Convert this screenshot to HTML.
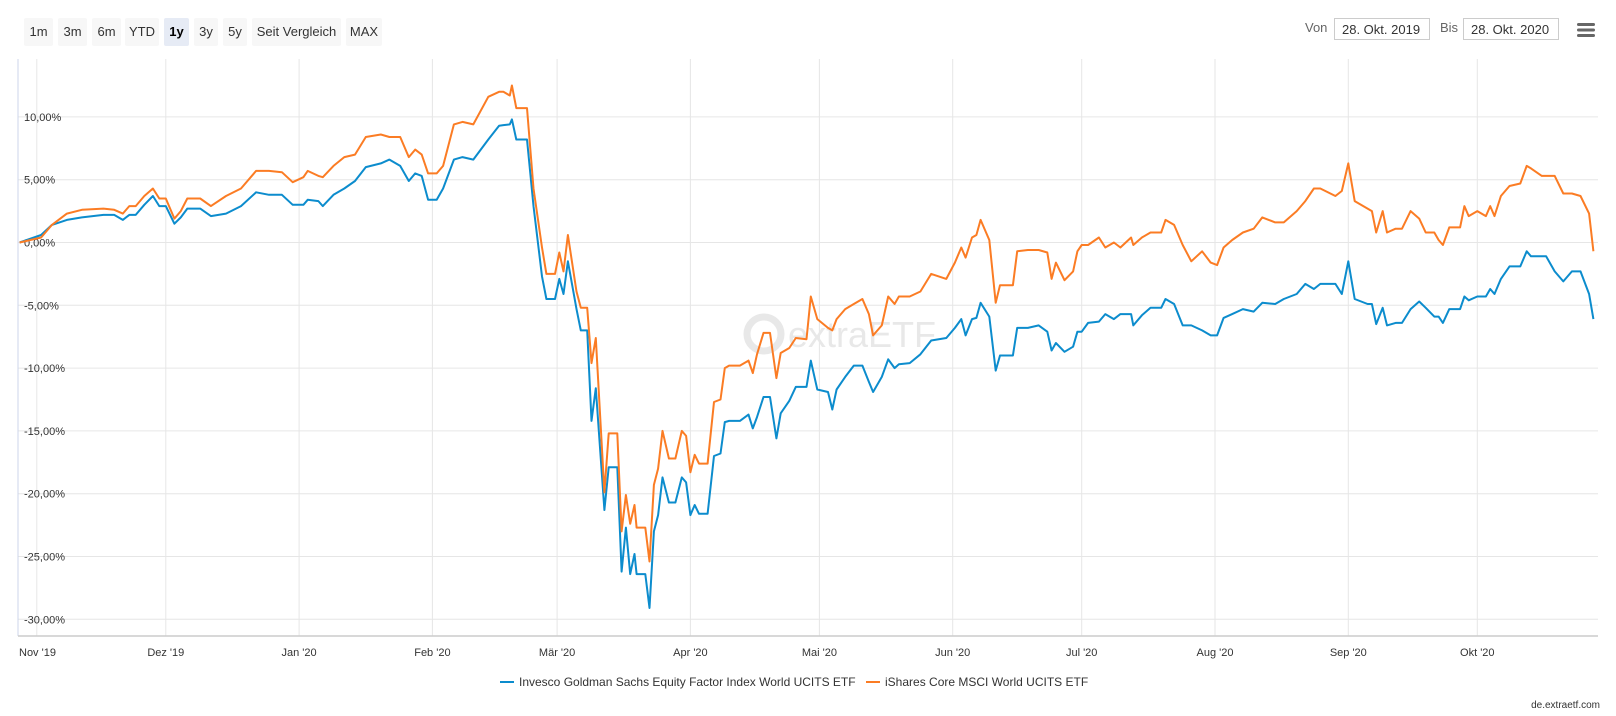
<!DOCTYPE html>
<html><head><meta charset="utf-8">
<style>
body{margin:0;width:1616px;height:716px;background:#fff;font-family:"Liberation Sans",sans-serif;overflow:hidden;position:relative}
.btn{position:absolute;top:18px;height:28px;line-height:28px;background:#f7f7f7;border-radius:2px;font-size:13px;color:#333;text-align:center}
.btn.sel{background:#e6ebf5;font-weight:bold;color:#000}
.lbl{position:absolute;top:20px;font-size:13px;color:#666}
.inp{position:absolute;top:18px;height:22px;line-height:22px;border:1px solid #ccc;font-size:13px;color:#333;padding:0 7px;box-sizing:border-box;width:96px}
</style></head><body>
<div class="btn" style="left:24px;width:29px">1m</div>
<div class="btn" style="left:58px;width:29px">3m</div>
<div class="btn" style="left:92px;width:29px">6m</div>
<div class="btn" style="left:125px;width:34px">YTD</div>
<div class="btn sel" style="left:164px;width:25px">1y</div>
<div class="btn" style="left:194px;width:24px">3y</div>
<div class="btn" style="left:223px;width:24px">5y</div>
<div class="btn" style="left:252px;width:89px">Seit Vergleich</div>
<div class="btn" style="left:346px;width:36px">MAX</div>
<div class="lbl" style="left:1305px">Von</div>
<div class="inp" style="left:1334px">28. Okt. 2019</div>
<div class="lbl" style="left:1440px">Bis</div>
<div class="inp" style="left:1463px">28. Okt. 2020</div>
<svg style="position:absolute;left:1576px;top:22px" width="20" height="16"><rect x="1" y="1" width="18" height="3" rx="1.5" fill="#666"/><rect x="1" y="6.5" width="18" height="3" rx="1.5" fill="#666"/><rect x="1" y="12" width="18" height="3" rx="1.5" fill="#666"/></svg>
<svg id="chart" style="position:absolute;left:0;top:0" width="1616" height="716" font-family="Liberation Sans, sans-serif"></svg>
<script>
const dayIdx=[0,5,7.5,11,14.5,19.5,22,24,25.5,27,29,31,32.5,34,36,37.5,39,42,44.5,48,51.5,55,58,61,63.5,66,67,69.5,70.5,73,75.5,78,80.5,84,86,88.5,90.5,92,93.5,95,97,98.5,101,103,105.5,109,111.5,112.5,114,114.5,115.5,118,119.5,121.5,122.5,124.5,125.5,126.5,127.5,129.5,130.5,132,133,134,136,137,139,140,141,142,143,143.5,145.5,146.5,147.5,148.5,149.5,151,152.5,154,155,156,157,158,160,161.5,163,164,165,167.5,169.5,170.5,171.5,173,174.5,176,177,179,180.5,183,184,185.5,188,189,190,192,194,196,197.5,198.5,200.5,202,203.5,204.5,207,209.5,212,215.5,217.5,219,220,221.5,222.5,223.5,225.5,227,228,231,232,234.5,237,239,240,241,243,245,246,247,248.5,251,252.5,254.5,256,258.5,259,261,263,265.5,266.5,268.5,270.5,272.5,275,277,278.5,280,282,284.5,287,289,292,294,297,299,301,302.5,306,307.5,309,310.5,313.5,314.5,315.5,317,318,320,321.5,323.5,325.5,327,329,330,331,332.5,335,336,337,339,341,342,343,344.5,346.5,349,350.5,351.5,354,355,357,359,361,363,365,366];
const invesco=[0,0.6,1.4,1.8,2.0,2.2,2.2,1.8,2.2,2.2,3.0,3.7,2.9,2.9,1.5,2.0,2.7,2.7,2.1,2.3,2.9,4.0,3.8,3.8,3.0,3.0,3.4,3.3,2.9,3.8,4.3,4.9,6.0,6.3,6.6,6.1,4.9,5.5,5.3,3.4,3.4,4.3,6.6,6.8,6.6,8.2,9.3,9.35,9.4,9.8,8.2,8.2,2.9,-2.7,-4.5,-4.5,-2.9,-4.1,-1.5,-5.3,-7.0,-7.0,-14.2,-11.6,-21.3,-17.9,-17.9,-26.2,-22.7,-26.4,-24.8,-26.4,-26.4,-29.1,-23.0,-21.7,-18.7,-20.7,-20.7,-18.7,-19.1,-21.7,-20.9,-21.6,-21.6,-17.0,-16.8,-14.3,-14.2,-14.2,-13.7,-14.8,-13.9,-12.3,-12.3,-15.6,-13.6,-12.6,-11.5,-11.5,-9.4,-11.7,-11.9,-13.3,-11.7,-10.7,-9.8,-9.8,-11.1,-11.9,-10.7,-9.3,-10.0,-9.7,-9.6,-8.9,-7.8,-7.6,-6.8,-6.1,-7.4,-6.1,-6.0,-4.8,-5.9,-10.2,-9.0,-9.0,-6.8,-6.8,-6.6,-7.1,-8.6,-8.0,-8.7,-8.3,-7.1,-7.1,-6.4,-6.3,-5.7,-6.1,-5.7,-5.7,-6.6,-5.8,-5.2,-5.2,-4.5,-4.9,-6.6,-6.6,-7.0,-7.4,-7.4,-6.0,-5.7,-5.3,-5.5,-4.8,-4.9,-4.5,-4.1,-3.3,-3.7,-3.3,-3.3,-4.1,-1.5,-4.5,-4.9,-4.9,-6.5,-5.2,-6.6,-6.4,-6.4,-5.3,-4.7,-5.2,-5.9,-5.9,-6.4,-5.3,-5.3,-4.3,-4.6,-4.3,-4.3,-3.7,-4.1,-2.9,-1.9,-1.9,-0.7,-1.1,-1.1,-1.1,-2.3,-3.1,-2.3,-2.3,-4.1,-6.1];
const ishares=[0,0.4,1.4,2.3,2.6,2.7,2.6,2.3,2.9,2.9,3.7,4.3,3.5,3.5,1.9,2.5,3.5,3.5,2.9,3.7,4.3,5.7,5.7,5.6,4.8,5.2,5.7,5.3,5.2,6.1,6.8,7.0,8.4,8.6,8.4,8.4,6.8,7.4,7.0,5.5,5.5,6.1,9.4,9.6,9.4,11.6,12.0,12.0,11.7,12.5,10.7,10.7,4.3,-0.4,-2.5,-2.5,-0.8,-2.3,0.6,-3.9,-5.2,-5.2,-9.6,-7.6,-19.9,-15.2,-15.2,-23.0,-20.1,-22.4,-20.9,-22.7,-22.7,-25.4,-19.3,-18.0,-15.0,-17.2,-17.2,-15.0,-15.4,-18.3,-16.9,-17.6,-17.6,-12.7,-12.5,-10.0,-9.8,-9.8,-9.4,-10.4,-8.9,-7.2,-7.2,-10.8,-8.8,-8.4,-7.6,-7.7,-4.3,-6.1,-6.8,-7.0,-6.1,-5.3,-4.9,-4.5,-5.7,-7.4,-6.6,-4.3,-4.9,-4.3,-4.3,-3.9,-2.5,-2.9,-1.6,-0.4,-1.2,0.4,0.6,1.8,0.2,-4.8,-3.4,-3.4,-0.7,-0.6,-0.6,-0.8,-2.9,-1.6,-3.0,-2.3,-0.7,-0.2,-0.2,0.4,-0.4,0,-0.4,0.4,-0.2,0.4,0.8,0.8,1.8,1.4,-0.2,-1.5,-0.7,-1.6,-1.8,-0.4,0.2,0.8,1.1,2.0,1.6,1.6,2.5,3.3,4.3,4.3,3.7,4.1,6.3,3.3,2.7,2.5,0.8,2.5,0.8,1.1,1.1,2.5,1.9,0.8,0.8,0.2,-0.2,1.2,1.2,2.9,2.1,2.5,2.1,2.9,2.1,3.7,4.5,4.7,6.1,5.9,5.3,5.3,5.3,3.9,3.9,3.7,2.3,-0.7];
const yTicks=[10,5,0,-5,-10,-15,-20,-25,-30];
const yTickLabels=["10,00%","5,00%","0,00%","-5,00%","-10,00%","-15,00%","-20,00%","-25,00%","-30,00%"];
const monthDays=[4,34,65,96,125,156,186,217,247,278,309,339];
const monthLabels=["Nov '19","Dez '19","Jan '20","Feb '20","Mär '20","Apr '20","Mai '20","Jun '20","Jul '20","Aug '20","Sep '20","Okt '20"];

const svg=document.getElementById('chart');
const NS='http://www.w3.org/2000/svg';
const L=18,R=1598,T=59,B=636;
const xS=d=>19.6+d*4.30;
const yS=v=>242.5-v*12.56;
function mk(tag,at,parent){const e=document.createElementNS(NS,tag);for(const k in at)e.setAttribute(k,at[k]);(parent||svg).appendChild(e);return e;}

monthDays.forEach((d,i)=>{
  const g=mk('line',{x1:xS(d),x2:xS(d),y1:T,y2:B,stroke:'#e6e6e6','stroke-width':1});
  
  
  let x=xS(d),anchor='middle';
  if(i===0){x=19;anchor='start';}
  const t=mk('text',{x:x,y:656,'font-size':11,fill:'#333','text-anchor':anchor});
  t.textContent=monthLabels[i];
  
  
});
yTicks.forEach((v,i)=>{
  const g=mk('line',{x1:L,x2:R,y1:yS(v),y2:yS(v),stroke:'#e6e6e6','stroke-width':1});
  
  
  const t=mk('text',{x:24,y:yS(v)+4,'font-size':11,fill:'#333'});
  t.textContent=yTickLabels[i];
  
  
});
const ax=mk('line',{x1:L,x2:L,y1:T,y2:B,stroke:'#ccd6eb','stroke-width':1});


const xa=mk('line',{x1:L,x2:R,y1:B,y2:B,stroke:'#ccc','stroke-width':1.5});



const wm=mk('g',{});


mk('circle',{cx:764,cy:334,r:17,fill:'none',stroke:'#e8e8e8','stroke-width':7},wm);
const wt=mk('text',{x:788,y:347,'font-size':36,fill:'#e8e8e8'},wm);
wt.textContent='extraETF';

function series(vals,color,name){
  const p=mk('polyline',{points:dayIdx.map((d,i)=>xS(d).toFixed(1)+','+yS(vals[i]).toFixed(1)).join(' '),fill:'none',stroke:color,'stroke-width':2,'stroke-linejoin':'round'});
  
  
}
series(invesco,'#0c8ccd','invesco-line');
series(ishares,'#fb7c24','ishares-line');

const lg1=mk('g',{});


mk('line',{x1:500,x2:514,y1:682,y2:682,stroke:'#0c8ccd','stroke-width':2},lg1);
const l1=mk('text',{x:519,y:686,'font-size':12,fill:'#333'},lg1);
l1.textContent='Invesco Goldman Sachs Equity Factor Index World UCITS ETF';
const lg2=mk('g',{});


mk('line',{x1:866,x2:880,y1:682,y2:682,stroke:'#fb7c24','stroke-width':2},lg2);
const l2=mk('text',{x:885,y:686,'font-size':12,fill:'#333'},lg2);
l2.textContent='iShares Core MSCI World UCITS ETF';
const cr=mk('text',{x:1600,y:708,'font-size':10,fill:'#333','text-anchor':'end'});
cr.textContent='de.extraetf.com';


</script>
</body></html>
